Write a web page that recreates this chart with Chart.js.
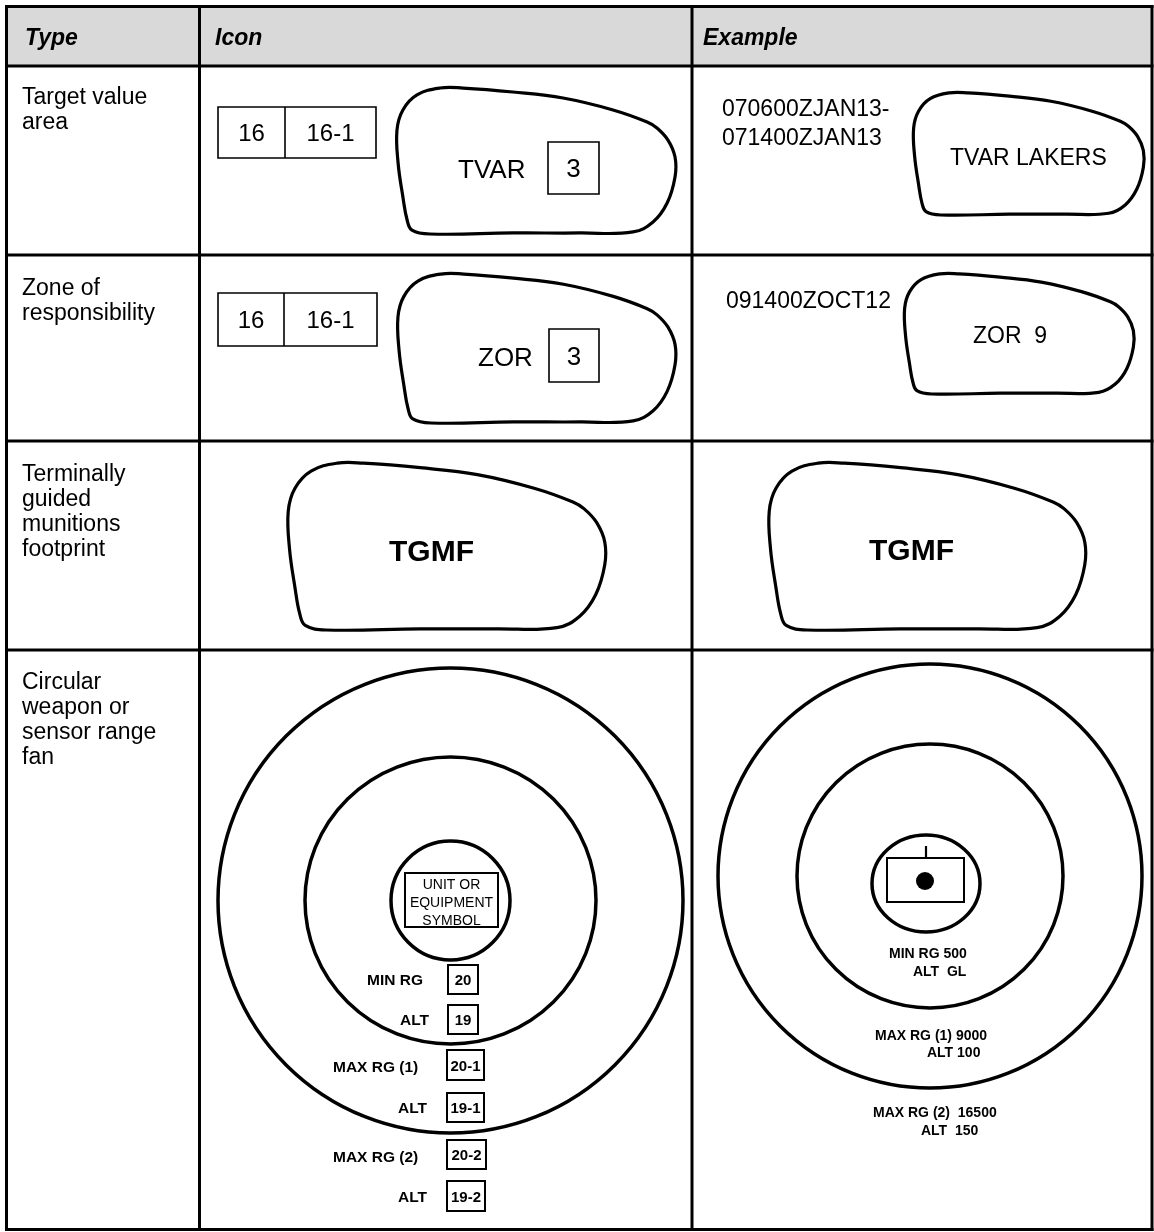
<!DOCTYPE html>
<html><head><meta charset="utf-8">
<script src="https://cdn.jsdelivr.net/npm/chart.js@4.4.1/dist/chart.umd.min.js"></script>
<style>html,body{margin:0;padding:0;background:#fff}canvas{display:block}</style>
</head><body>
<canvas id="c" width="1154" height="1232"></canvas>
<script>
// ---------------- data ----------------
const headers = ['Type', 'Icon', 'Example'];
const rowTypes = [
  ['Target value', 'area'],
  ['Zone of', 'responsibility'],
  ['Terminally', 'guided', 'munitions', 'footprint'],
  ['Circular', 'weapon or', 'sensor range', 'fan']
];
const fieldCodes = ['16', '16-1'];
const tvarIcon = ['TVAR', '3'];
const zorIcon = ['ZOR', '3'];
const tvarExample = ['070600ZJAN13-', '071400ZJAN13', 'TVAR LAKERS'];
const zorExample = ['091400ZOCT12', 'ZOR  9'];
const tgmfLabel = 'TGMF';
const unitSymbolLines = ['UNIT OR', 'EQUIPMENT', 'SYMBOL'];
const rangeLabels = ['MIN RG', 'ALT', 'MAX RG (1)', 'ALT', 'MAX RG (2)', 'ALT'];
const rangeFields = ['20', '19', '20-1', '19-1', '20-2', '19-2'];
const rangeExample = ['MIN RG 500', 'ALT  GL', 'MAX RG (1) 9000', 'ALT 100', 'MAX RG (2)  16500', 'ALT  150'];
// outline of the irregular area, normalised to its bounding box
const blobX = [0.160,0.078,0.028,0.007,0.011,0.028,0.043,0.060,0.124,0.418,0.656,0.844,0.915,0.965,0.993,0.993,0.968,0.929,0.894,0.773,0.596,0.418,0.241];
const blobY = [0.007,0.054,0.156,0.293,0.517,0.748,0.905,0.973,1.000,0.993,0.993,0.986,0.918,0.789,0.612,0.476,0.361,0.279,0.238,0.156,0.075,0.034,0.007];

// ---------------- layout ----------------
const W = 1154, H = 1232;
const FONT = "'Liberation Sans', Arial, Helvetica, sans-serif";
const colX = [6.5, 199.5, 692, 1152];
const rowY = [6.5, 66, 255, 441, 650, 1229.5];
const headerX = [25, 215, 703];
const rowTypeBase = [104, 295, 481, 689];
const rowStep = 25;
const blobBoxes = [
  [395, 87, 677, 234], [912, 92, 1145, 215],
  [396, 273, 677, 423], [903, 273, 1135, 394],
  [286, 462, 607, 630], [767, 462, 1087, 630]
];
const fieldBoxes = [[218, 107, 285, 376, 158], [218, 293, 284, 377, 346]];
const numBoxes = [[548, 142, 599, 194], [549, 329, 599, 382]];
const unitBox = [405, 873, 498, 927];
const rangeBoxes = [[448,965,478,994],[448,1005,478,1034],[447,1050,484,1080],[447,1093,484,1122],[447,1140,486,1169],[447,1181,485,1211]];
const rangeLabelPos = [[367,985],[400,1025],[333,1072],[398,1113],[333,1162],[398,1202]];
const rangeExamplePos = [[889,958],[913,976],[875,1040],[927,1057],[873,1117],[921,1135]];
const iconRings = [[450.5,900.5,232.5,232.5],[450.5,900.5,145.5,143.5],[450.5,900.5,59.5,59.5]];
const exampleRings = [[930,876,212,212],[930,876,133,132],[926,883.5,54,48.5]];
const exampleBox = [887, 858, 964, 902];

// ---------------- datasets ----------------
const datasets = [];
function seg(pts, w, extra) {
  datasets.push(Object.assign({
    data: pts.map(p => ({x: p[0], y: p[1]})),
    showLine: true, borderColor: '#000', borderWidth: w,
    pointRadius: 0, tension: 0, clip: false, borderCapStyle: 'square'
  }, extra || {}));
}
function rect(b, w) {
  seg([[b[0],b[1]],[b[2],b[1]],[b[2],b[3]],[b[0],b[3]],[b[0],b[1]]], w, {borderJoinStyle: 'miter'});
}
// table grid
colX.forEach(x => seg([[x, rowY[0]], [x, rowY[rowY.length - 1]]], 3));
rowY.forEach(y => seg([[colX[0], y], [colX[colX.length - 1], y]], 3));
// irregular areas
blobBoxes.forEach(b => {
  const n = blobX.length;
  const pts = blobX.map((v, i) => [b[0] + v * (b[2] - b[0]), b[1] + blobY[i] * (b[3] - b[1])]);
  const wrapped = [pts[n - 1]].concat(pts, [pts[0], pts[1]]);
  const last = wrapped.length - 1;
  seg(wrapped, 3.2, {
    tension: 0.4, borderCapStyle: 'round', borderJoinStyle: 'round',
    segment: { borderColor: c => (c.p0DataIndex === 0 || c.p1DataIndex === last) ? 'rgba(0,0,0,0)' : '#000' }
  });
});
// field boxes
fieldBoxes.forEach(b => {
  rect([b[0], b[1], b[3], b[4]], 1.6);
  seg([[b[2], b[1]], [b[2], b[4]]], 1.6, {borderCapStyle: 'butt'});
});
numBoxes.forEach(b => rect(b, 1.6));
rect(unitBox, 2);
rangeBoxes.forEach(b => rect(b, 2));
rect(exampleBox, 2);
seg([[926, 846], [926, 858]], 2.2, {borderCapStyle: 'butt'});
datasets.push({data: [{x: 925, y: 881}], pointRadius: 9, pointBackgroundColor: '#000', pointBorderWidth: 0, showLine: false, clip: false});

// ---------------- plugins ----------------
const headerFill = {
  id: 'headerFill',
  beforeDatasetsDraw(chart) {
    const {ctx, scales: {x, y}} = chart;
    ctx.save();
    ctx.fillStyle = '#d9d9d9';
    const x0 = x.getPixelForValue(colX[0]), x1 = x.getPixelForValue(colX[3]);
    const y0 = y.getPixelForValue(rowY[0]), y1 = y.getPixelForValue(rowY[1]);
    ctx.fillRect(x0, y0, x1 - x0, y1 - y0);
    ctx.restore();
  }
};
const rings = {
  id: 'rings',
  afterDatasetsDraw(chart) {
    const {ctx, scales: {x, y}} = chart;
    ctx.save();
    ctx.strokeStyle = '#000';
    ctx.lineWidth = 3.5;
    iconRings.concat(exampleRings).forEach(r => {
      const cx = x.getPixelForValue(r[0]), cy = y.getPixelForValue(r[1]);
      const rx = x.getPixelForValue(r[0] + r[2]) - cx, ry = y.getPixelForValue(r[1] + r[3]) - cy;
      ctx.beginPath();
      ctx.ellipse(cx, cy, Math.abs(rx), Math.abs(ry), 0, 0, Math.PI * 2);
      ctx.stroke();
    });
    ctx.restore();
  }
};
const texts = [];
function T(s, x, y, font, align) { texts.push({s, x, y, font, align: align || 'left'}); }
headers.forEach((h, i) => T(h, headerX[i], 45, 'italic bold 23px ' + FONT));
rowTypes.forEach((lines, r) => lines.forEach((l, k) => T(l, 22, rowTypeBase[r] + k * rowStep, '23px ' + FONT)));
fieldBoxes.forEach(b => {
  const cy = (b[1] + b[4]) / 2 + 8.6;
  T(fieldCodes[0], (b[0] + b[2]) / 2, cy, '24px ' + FONT, 'center');
  T(fieldCodes[1], (b[2] + b[3]) / 2, cy, '24px ' + FONT, 'center');
});
T(tvarIcon[0], 458, 178, '26px ' + FONT);
T(tvarIcon[1], (numBoxes[0][0] + numBoxes[0][2]) / 2, (numBoxes[0][1] + numBoxes[0][3]) / 2 + 9.4, '26px ' + FONT, 'center');
T(zorIcon[0], 478, 366, '26px ' + FONT);
T(zorIcon[1], (numBoxes[1][0] + numBoxes[1][2]) / 2, (numBoxes[1][1] + numBoxes[1][3]) / 2 + 9.4, '26px ' + FONT, 'center');
T(tvarExample[0], 722, 116, '23px ' + FONT);
T(tvarExample[1], 722, 145, '23px ' + FONT);
T(tvarExample[2], 950, 165, '23px ' + FONT);
T(zorExample[0], 726, 308, '23px ' + FONT);
T(zorExample[1], 973, 343, '23px ' + FONT);
T(tgmfLabel, 389, 561, 'bold 30px ' + FONT);
T(tgmfLabel, 869, 560, 'bold 30px ' + FONT);
unitSymbolLines.forEach((l, i) => T(l, 451.5, 889 + i * 18, '14px ' + FONT, 'center'));
rangeLabels.forEach((l, i) => T(l, rangeLabelPos[i][0], rangeLabelPos[i][1], 'bold 15.5px ' + FONT));
rangeFields.forEach((l, i) => {
  const b = rangeBoxes[i];
  T(l, (b[0] + b[2]) / 2, (b[1] + b[3]) / 2 + 5.5, 'bold 15px ' + FONT, 'center');
});
rangeExample.forEach((l, i) => T(l, rangeExamplePos[i][0], rangeExamplePos[i][1], 'bold 14px ' + FONT));
const textPlugin = {
  id: 'textPlugin',
  afterDatasetsDraw(chart) {
    const {ctx, scales: {x, y}} = chart;
    ctx.save();
    ctx.fillStyle = '#000';
    ctx.textBaseline = 'alphabetic';
    texts.forEach(t => {
      ctx.font = t.font;
      ctx.textAlign = t.align;
      ctx.fillText(t.s, x.getPixelForValue(t.x), y.getPixelForValue(t.y));
    });
    ctx.restore();
  }
};

new Chart(document.getElementById('c'), {
  type: 'scatter',
  data: { datasets },
  options: {
    responsive: false, animation: false, devicePixelRatio: 1, events: [],
    layout: { padding: 0, autoPadding: false },
    scales: {
      x: { type: 'linear', min: 0, max: W, display: false },
      y: { type: 'linear', min: 0, max: H, reverse: true, display: false }
    },
    plugins: { legend: { display: false }, tooltip: { enabled: false } }
  },
  plugins: [headerFill, rings, textPlugin]
});
</script>
</body></html>
